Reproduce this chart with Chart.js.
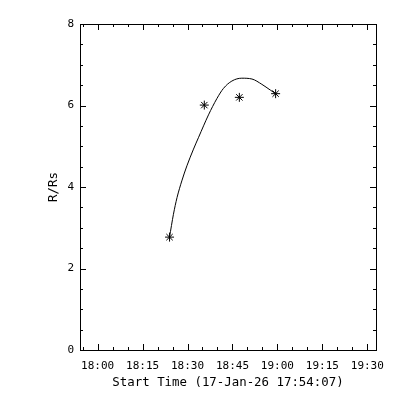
<!DOCTYPE html>
<html>
<head>
<meta charset="utf-8">
<script src="https://cdn.jsdelivr.net/npm/chart.js@4"></script>
<style>
  body { margin: 0; background: #fff; }
  canvas { display: block; }
</style>
</head>
<body>
<canvas id="myChart" width="400" height="400"></canvas>
<script>
// times are minutes after 18:00, start time is 17:54:07
const xMin = -5.88;
const xMax = 92.9;
const xTickValues = [0, 15, 30, 45, 60, 75, 90];
const xTickLabels = ["18:00", "18:15", "18:30", "18:45", "19:00", "19:15", "19:30"];
const yTickValues = [0, 2, 4, 6, 8];
const yTickLabels = ["0", "2", "4", "6", "8"];

// measured heights (asterisks)
const pointTimes = [24.0, 35.6, 47.3, 59.4];
const pointR = [2.77, 6.01, 6.2, 6.29];

// fitted curve
const fitTimes = [24.0, 25.3, 26.5, 28.1, 29.8, 32.0, 33.7, 37.0, 39.8, 42.0, 44.8, 48.1, 51.5, 54.8, 57.6, 59.4];
const fitR = [2.77, 3.33, 3.74, 4.15, 4.52, 4.93, 5.22, 5.77, 6.17, 6.42, 6.6, 6.67, 6.65, 6.52, 6.38, 6.29];

const tickFont = { family: "DejaVu Sans Mono", size: 11 };
const titleFont = { family: "DejaVu Sans Mono", size: 12.4 };

// IDL style box with inward ticks on all four sides
// minor ticks every 5 min on x, every 0.5 on y
const axisBox = {
  id: "axisBox",
  afterDraw(chart) {
    const { ctx, chartArea: a, scales } = chart;
    const line = (x1, y1, x2, y2) => {
      ctx.beginPath();
      ctx.moveTo(x1, y1);
      ctx.lineTo(x2, y2);
      ctx.stroke();
    };
    ctx.save();
    ctx.strokeStyle = "#000";
    ctx.lineWidth = 1;
    ctx.strokeRect(a.left + 0.5, a.top + 0.5, a.right - a.left, a.bottom - a.top);
    for (let v = Math.ceil(xMin / 5) * 5; v <= xMax; v += 5) {
      const px = Math.round(scales.x.getPixelForValue(v)) + 0.5;
      const len = v % 15 === 0 ? 6 : 3;
      line(px, a.bottom, px, a.bottom - len);
      line(px, a.top, px, a.top + len);
    }
    for (let v = 0; v <= 8; v += 0.5) {
      const py = Math.round(scales.y.getPixelForValue(v)) + 0.5;
      const len = v % 2 === 0 ? 6 : 3;
      line(a.left, py, a.left + len, py);
      line(a.right, py, a.right - len, py);
    }
    ctx.restore();
  },
};

const ctx = document.getElementById("myChart");

new Chart(ctx, {
  type: "scatter",
  data: {
    datasets: [
      {
        data: pointTimes.map((t, i) => ({ x: t, y: pointR[i] })),
        pointStyle: "star",
        pointRadius: 4.5,
        borderColor: "#000",
        backgroundColor: "#000",
        borderWidth: 1,
        showLine: false,
      },
      {
        data: fitTimes.map((t, i) => ({ x: t, y: fitR[i] })),
        showLine: true,
        pointRadius: 0,
        borderColor: "#000",
        borderWidth: 1,
        cubicInterpolationMode: "monotone",
      },
    ],
  },
  options: {
    responsive: false,
    animation: false,
    layout: { padding: { top: 24, right: 24, left: 0, bottom: 0 } },
    plugins: { legend: { display: false }, tooltip: { enabled: false } },
    scales: {
      x: {
        type: "linear",
        min: xMin,
        max: xMax,
        afterFit: (scale) => {
          scale.height = 50;
        },
        grid: { display: false, drawTicks: false },
        border: { display: false },
        ticks: {
          stepSize: 5,
          includeBounds: false,
          maxRotation: 0,
          autoSkip: false,
          padding: 10,
          color: "#000",
          font: tickFont,
          callback: (v) => {
            const i = xTickValues.indexOf(v);
            return i >= 0 ? xTickLabels[i] : null;
          },
        },
        title: {
          display: true,
          text: "Start Time (17-Jan-26 17:54:07)",
          color: "#000",
          font: titleFont,
          padding: { top: 0, bottom: 10 },
        },
      },
      y: {
        min: 0,
        max: 8,
        afterFit: (scale) => {
          scale.width = 80;
        },
        grid: { display: false, drawTicks: false },
        border: { display: false },
        ticks: {
          stepSize: 0.5,
          autoSkip: false,
          padding: 6,
          color: "#000",
          font: tickFont,
          callback: (v) => {
            const i = yTickValues.indexOf(v);
            return i >= 0 ? yTickLabels[i] : null;
          },
        },
        title: {
          display: true,
          text: "R/Rs",
          color: "#000",
          font: titleFont,
          padding: { top: 46, bottom: 0 },
        },
      },
    },
  },
  plugins: [axisBox],
});
</script>
</body>
</html>
